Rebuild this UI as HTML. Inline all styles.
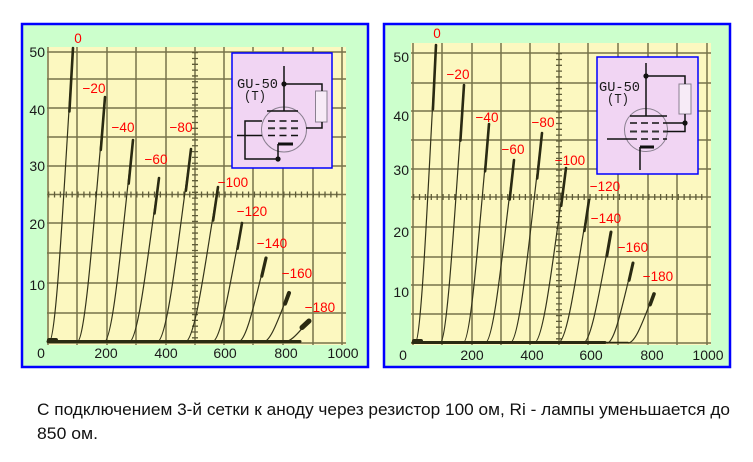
<!DOCTYPE html>
<html><head><meta charset="utf-8"><style>
html,body{margin:0;padding:0;background:#fff;}
svg{display:block;}
</style></head><body>
<svg width="753" height="462" viewBox="0 0 753 462" xmlns="http://www.w3.org/2000/svg">
<rect width="753" height="462" fill="#ffffff"/>

<!-- Panels -->
<rect x="22" y="24" width="346" height="343" fill="#ccffcc" stroke="#0000ff" stroke-width="2.5"/>
<rect x="384" y="24" width="346" height="343" fill="#ccffcc" stroke="#0000ff" stroke-width="2.5"/>

<!-- Yellow plot areas -->
<rect x="47" y="47" width="299" height="298" fill="#fcf8c0"/>
<rect x="411" y="43" width="300" height="302" fill="#fcf8c0"/>

<!-- Left grid -->
<g stroke="#76734a" stroke-width="1.5" fill="none">
<path d="M48 47V345M77 47V345M107 47V345M136 47V345M166 47V345M195 47V345M224 47V345M253 47V345M283 47V345M313 47V345M342 47V345"/>
<path d="M47 52H346M47 79H346M47 108H346M47 137H346M47 166H346M47 194.5H346M47 223H346M47 253H346M47 283H346M47 313H346M47 343H346"/>
</g>
<line x1="48" y1="194.5" x2="342" y2="194.5" stroke="#5f5c38" stroke-width="6" stroke-dasharray="1.3 4.58"/>
<line x1="195" y1="52" x2="195" y2="343" stroke="#5f5c38" stroke-width="6" stroke-dasharray="1.3 4.52"/>

<!-- Right grid -->
<g stroke="#76734a" stroke-width="1.5" fill="none">
<path d="M413 43V345M442 43V345M472 43V345M501 43V345M530 43V345M559 43V345M588 43V345M618 43V345M648 43V345M677 43V345M707 43V345"/>
<path d="M411 53H711M411 83H711M411 111H711M411 140H711M411 169H711M411 197H711M411 227H711M411 257H711M411 285H711M411 314H711M411 343H711"/>
</g>
<line x1="413" y1="197" x2="707" y2="197" stroke="#5f5c38" stroke-width="6" stroke-dasharray="1.3 4.58"/>
<line x1="559" y1="53" x2="559" y2="343" stroke="#5f5c38" stroke-width="6" stroke-dasharray="1.3 4.52"/>

<!-- Left curves -->
<g stroke="#34341a" fill="none" stroke-width="1.2">
<path d="M49 342C57 342 65 162.7 73 48"/>
<path d="M77 342C86.3 342 95.7 192.5 105 97"/>
<path d="M104 342C113.7 342 123.3 218.8 133 140"/>
<path d="M129 342C139 342 149 242 159 178"/>
<path d="M157 342C168.3 342 179.7 224.3 191 149"/>
<path d="M185 342C196 342 207 247.4 218 187"/>
<path d="M212 342C222 342 232 269.4 242 223"/>
<path d="M238 342C247.3 342 256.7 290.8 266 258"/>
<path d="M263 342C271.7 342 280.3 312.1 289 293"/>
<path d="M284 342C292.3 342 300.7 329.2 309 321"/>
</g>
<g stroke="#2a2a12" fill="none" stroke-linecap="round">
<path stroke-width="2.6" d="M69.4 111.5L73 48M100.8 149.9L105 97M128.7 183.6L133 140M154.5 213.4L159 178M185.9 190.7L191 149M213.1 220.5L218 187M237.5 248.7L242 223"/>
<path stroke-width="3.2" d="M261.8 276.1L266 258"/>
<path stroke-width="4" d="M285.1 303.6L289 293"/>
<path stroke-width="5" d="M302 327.5L309 321"/>
<path stroke-width="3" d="M48 341.5H300"/>
<path stroke-width="4" d="M49 340L56 340"/>
</g>

<!-- Right curves -->
<g stroke="#34341a" fill="none" stroke-width="1.2">
<path d="M415 343C422 343 429 161.2 436 45"/>
<path d="M440 343C448 343 456 185.6 464 85"/>
<path d="M463 343C471.7 343 480.3 209.4 489 124"/>
<path d="M485 343C494.7 343 504.3 231.4 514 160"/>
<path d="M510 343C520.7 343 531.3 214.9 542 133"/>
<path d="M534 343C544.7 343 555.3 236.2 566 168"/>
<path d="M558 343C568.3 343 578.7 255.8 589 200"/>
<path d="M583 343C592.3 343 601.7 275.3 611 232"/>
<path d="M607 343C615.7 343 624.3 294.2 633 263"/>
<path d="M628 343C636.7 343 645.3 313.1 654 294"/>
</g>
<g stroke="#2a2a12" fill="none" stroke-linecap="round">
<path stroke-width="2.6" d="M432.9 109.4L436 45M460.4 140.7L464 85M485.1 171.3L489 124M509.7 199.5L514 160M537.2 178.4L542 133M561.2 205.8L566 168M584.4 230.9L589 200"/>
<path stroke-width="3" d="M606.8 256L611 232M629.1 280.3L633 263"/>
<path stroke-width="3.6" d="M650.1 304.6L654 294"/>
<path stroke-width="3" d="M413 342.5H605"/>
<path stroke-width="1.6" d="M605 342.5H628"/>
<path stroke-width="4" d="M414 341L421 341"/>
</g>

<!-- Left inset -->
<rect x="232" y="53" width="100" height="115" fill="#f1d5f3" stroke="#0000ff" stroke-width="1.5"/>
<text x="237" y="88" font-family="Liberation Mono, monospace" font-size="14" fill="#1a1a1a" textLength="41" lengthAdjust="spacingAndGlyphs">GU-50</text>
<text x="244" y="100" font-family="Liberation Mono, monospace" font-size="14" fill="#1a1a1a" textLength="22" lengthAdjust="spacingAndGlyphs">(T)</text>
<circle cx="284" cy="129.5" r="22.5" fill="none" stroke="#8a8090" stroke-width="1"/>
<rect x="315.5" y="91" width="11.5" height="31" fill="#f7ebf7" stroke="#8a8090" stroke-width="1"/>
<g stroke="#111" stroke-width="1.5" fill="none">
<path d="M284 66V111M284 84H322V91M322 122V128H306M267 111H298M262 121H245V159H278M237 135.5H262M278 144V159"/>
<path d="M268 121H298M268 135.5H298" stroke-dasharray="7 4.5"/>
<path d="M268 128.3H298" stroke-dasharray="7 4.5" stroke="#333" stroke-width="2"/>
<path d="M278 144H293" stroke-width="3"/>
</g>
<circle cx="284" cy="84" r="2.6" fill="#111"/>
<circle cx="278" cy="159" r="2.6" fill="#111"/>

<!-- Right inset -->
<rect x="597" y="57" width="101" height="117" fill="#f1d5f3" stroke="#0000ff" stroke-width="1.5"/>
<text x="599" y="91" font-family="Liberation Mono, monospace" font-size="14" fill="#1a1a1a" textLength="41" lengthAdjust="spacingAndGlyphs">GU-50</text>
<text x="607" y="103" font-family="Liberation Mono, monospace" font-size="14" fill="#1a1a1a" textLength="22" lengthAdjust="spacingAndGlyphs">(T)</text>
<circle cx="646" cy="130" r="21.5" fill="none" stroke="#8a8090" stroke-width="1"/>
<rect x="679" y="84" width="12" height="30" fill="#f7ebf7" stroke="#8a8090" stroke-width="1"/>
<g stroke="#111" stroke-width="1.5" fill="none">
<path d="M646 63V116M646 76H685V84M685 114V131.5H667M667 123H685M630 116H667M607 139H630M640 147V170"/>
<path d="M630 123H667M630 139H667" stroke-dasharray="7 4"/>
<path d="M630 131.5H667" stroke-dasharray="7 4" stroke="#333" stroke-width="2"/>
<path d="M640 147H654" stroke-width="3"/>
</g>
<circle cx="646" cy="76" r="2.6" fill="#111"/>
<circle cx="685" cy="123" r="2.6" fill="#111"/>

<!-- Axis labels left -->
<g font-family="Liberation Sans, Arial, sans-serif" font-size="14" fill="#1a1a1a">
<g text-anchor="end">
<text x="45" y="57">50</text>
<text x="45" y="115">40</text>
<text x="45" y="171">30</text>
<text x="45" y="229">20</text>
<text x="45" y="290">10</text>
</g>
<g text-anchor="middle">
<text x="41" y="358">0</text>
<text x="106" y="358">200</text>
<text x="166" y="358">400</text>
<text x="225" y="358">600</text>
<text x="286" y="358">800</text>
<text x="343" y="358">1000</text>
</g>
<g text-anchor="end">
<text x="409" y="62">50</text>
<text x="409" y="121">40</text>
<text x="409" y="175">30</text>
<text x="409" y="237">20</text>
<text x="409" y="297">10</text>
</g>
<g text-anchor="middle">
<text x="403" y="360">0</text>
<text x="472" y="360">200</text>
<text x="532" y="360">400</text>
<text x="591" y="360">600</text>
<text x="652" y="360">800</text>
<text x="708" y="360">1000</text>
</g>
</g>

<!-- Red grid-voltage labels -->
<g font-family="Liberation Sans, Arial, sans-serif" font-size="13.5" fill="#ff0000" text-anchor="middle">
<text x="78" y="43">0</text>
<text x="94" y="93">−20</text>
<text x="123" y="132">−40</text>
<text x="156" y="164">−60</text>
<text x="181" y="132">−80</text>
<text x="233" y="187">−100</text>
<text x="252" y="216">−120</text>
<text x="272" y="248">−140</text>
<text x="297" y="278">−160</text>
<text x="320" y="312">−180</text>

<text x="437" y="38">0</text>
<text x="458" y="79">−20</text>
<text x="487" y="122">−40</text>
<text x="513" y="154">−60</text>
<text x="543" y="127">−80</text>
<text x="570" y="165">−100</text>
<text x="605" y="191">−120</text>
<text x="606" y="223">−140</text>
<text x="633" y="252">−160</text>
<text x="658" y="281">−180</text>
</g>

<!-- Caption -->
<g font-family="Liberation Sans, Arial, sans-serif" font-size="17" fill="#111">
<text x="37" y="415" textLength="693" lengthAdjust="spacingAndGlyphs">С подключением 3-й сетки к аноду через резистор 100 ом, Ri - лампы уменьшается до</text>
<text x="37" y="439" textLength="61" lengthAdjust="spacingAndGlyphs">850 ом.</text>
</g>
</svg>
</body></html>
